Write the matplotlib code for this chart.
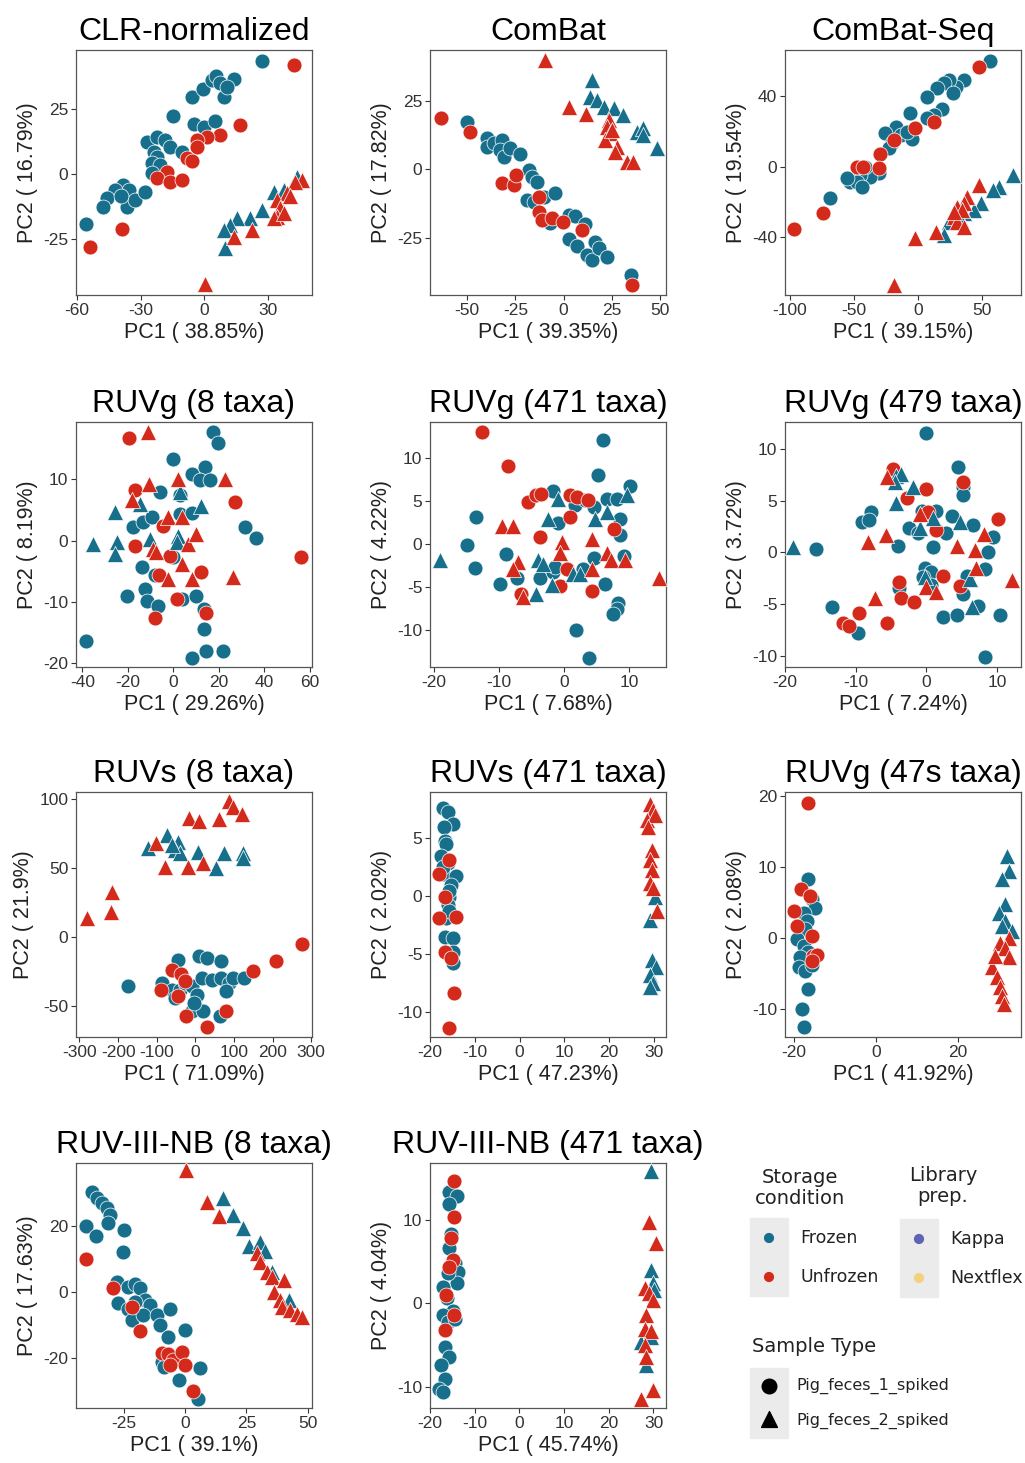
import matplotlib
matplotlib.use("Agg")
import matplotlib.pyplot as plt
from matplotlib.patches import Rectangle

plt.rcParams["font.family"] = ["Liberation Sans", "DejaVu Sans"]
plt.rcParams["axes.unicode_minus"] = False

FROZEN = "#176F8C"
UNFROZEN = "#D42A1C"
KAPPA = "#5E63B4"
NEXTFLEX = "#F3D27E"

# ---- panel data: (PC1, PC2) pairs ----
# CLR-normalized
clr_fc = [(27.2, 43.6), (-5.8, 29.8), (-0.6, 32.6), (3.6, 36.2), (5.7, 37.8), (7.6, 35.2), (9.4, 29.8),
          (13.9, 36.5), (10.7, 33.4), (-14.8, 22.4), (-4.7, 19.3), (-0.3, 18.0), (5.2, 20.6), (-27.1, 12.5),
          (-22.4, 14.4), (-18.4, 13.1), (-16.1, 10.5), (-10.6, 8.6), (-23.8, 8.6), (-22.4, 6.7), (-24.7, 4.1),
          (-20.8, 3.5), (-24.7, 0.3), (-38.1, -4.2), (-35.7, -6.2), (-42.0, -6.2), (-46.0, -9.4),
          (-47.6, -12.6), (-36.5, -12.6), (-32.6, -10.0), (-27.9, -6.8), (-39.4, -8.7), (-55.7, -19.3)]
clr_uc = [(42.2, 42.0), (17.0, 18.9), (7.6, 15.0), (1.3, 14.4), (-3.5, 13.1), (-3.5, 10.5), (-8.2, 6.0),
          (-5.8, 5.1), (-17.6, 0.9), (-22.4, -1.7), (-16.1, -3.0), (-10.6, -2.3), (-38.6, -21.3), (-53.9, -28.3)]
clr_ft = [(43.8, -1.0), (32.8, -6.8), (37.5, -6.2), (27.2, -14.1), (21.7, -17.1), (15.4, -17.1), (12.3, -19.7),
          (9.4, -21.6), (9.9, -28.7)]
clr_ut = [(46.1, -2.3), (43.0, -3.0), (39.0, -7.5), (34.3, -10.0), (35.9, -13.2), (34.3, -16.5), (32.8, -17.1),
          (37.5, -15.2), (22.5, -21.6), (13.9, -24.2), (0.5, -42.4), (40.6, -8.7)]

# ComBat
cb_fc = [(-50.3, 17.2), (-39.7, 11.3), (-39.7, 8.3), (-36.2, 9.5), (-31.9, 10.7), (-32.8, 7.1), (-31.0, 4.6),
         (-27.6, 7.7), (-22.4, 5.6), (-18.1, -0.2), (-16.4, -2.7), (-13.8, -4.5), (-19.0, -11.2), (-15.5, -11.8),
         (-10.3, -10.0), (-4.3, -8.5), (-6.9, -19.5), (2.6, -16.7), (6.0, -17.0), (11.2, -20.0), (2.6, -25.5),
         (6.9, -28.0), (12.1, -31.3), (14.7, -33.1), (16.4, -26.4), (18.1, -28.8), (22.4, -32.1), (34.8, -38.6)]
cb_uc = [(-63.8, 18.6), (-48.3, 13.7), (-31.9, -4.9), (-25.9, -5.7), (-24.7, -2.1), (-12.9, -10.0),
         (-12.9, -15.5), (-11.2, -18.5), (-6.0, -17.9), (-0.3, -19.1), (9.5, -22.1), (35.3, -42.2)]
cb_ft = [(14.7, 32.6), (13.8, 26.5), (17.2, 25.3), (20.7, 22.9), (25.9, 22.3), (31.0, 19.8), (37.9, 13.7),
         (41.4, 15.0), (41.4, 12.5), (48.3, 7.7)]
cb_ut = [(-9.5, 39.9), (2.6, 22.9), (11.7, 20.4), (23.3, 18.0), (22.4, 15.6), (24.1, 13.1), (21.6, 10.7),
         (27.6, 8.3), (26.7, 6.4), (32.8, 2.8), (36.2, 2.8), (25.0, 14.4)]

# ComBat-Seq
cbs_fc = [(56.1, 60.5), (35.8, 49.4), (29.2, 45.6), (24.0, 49.4), (20.1, 47.5), (15.0, 44.7), (7.0, 39.9),
          (27.4, 41.8), (18.8, 32.7), (12.3, 29.5), (7.0, 27.6), (-6.5, 30.4), (-17.0, 22.8), (-25.6, 19.0),
          (-13.8, 18.1), (-4.7, 15.6), (-8.6, 20.0), (-20.4, 13.3), (-23.0, 10.5), (-30.8, -3.8), (-37.3, -5.7),
          (-41.3, 0.0), (-45.2, -4.8), (-53.0, -8.6), (-47.8, -8.6), (-43.9, -11.4), (-68.7, -18.1),
          (-55.6, -6.7)]
cbs_uc = [(47.5, 57.0), (12.3, 25.7), (-2.1, 21.9), (-19.1, 15.2), (-29.5, 7.2), (-47.8, 0.0), (-43.1, 0.0),
          (-30.8, -1.0), (-73.9, -26.6), (-96.6, -35.7)]
cbs_ft = [(73.6, -4.8), (63.2, -11.4), (58.0, -13.3), (48.8, -20.9), (43.6, -24.7), (35.8, -26.6),
          (24.0, -31.4), (20.1, -39.0), (33.2, -30.4)]
cbs_ut = [(47.5, -10.5), (38.4, -17.1), (35.8, -20.9), (30.5, -22.8), (34.5, -24.7), (27.9, -28.5),
          (30.5, -31.4), (35.8, -34.2), (13.6, -37.1), (-2.1, -40.9), (-19.1, -67.5), (27.9, -25.7)]

# RUVg (8 taxa)
rg8_fc = [(17.6, 17.8), (19.8, 15.9), (-0.3, 13.4), (8.1, 10.9), (13.9, 12.0), (11.7, 9.9), (16.1, 9.9),
          (-5.9, 7.9), (2.9, 7.4), (2.9, 4.4), (8.1, 4.5), (-17.6, 2.2), (-13.2, 3.0), (-9.5, 3.8), (31.5, 2.2),
          (36.6, 0.4), (0.0, -2.7), (-13.9, -4.3), (-8.0, -5.6), (-12.4, -7.9), (-11.7, -9.9), (-6.6, -10.7),
          (-20.5, -9.0), (3.7, -9.6), (10.2, -9.0), (13.6, -11.2), (13.6, -14.5), (14.6, -18.1), (21.7, -18.1),
          (8.1, -19.2), (-38.4, -16.4)]
rg8_uc = [(-19.3, 16.7), (-16.8, 8.2), (-16.8, -0.9), (-4.4, 2.4), (-1.5, -2.5), (-6.1, -5.7), (1.5, -9.6),
          (-8.0, -12.6), (12.4, -5.2), (14.6, -11.8), (27.1, 6.3), (56.4, -2.7)]
rg8_ft = [(-25.6, 4.7), (-14.6, 6.0), (-35.1, -0.5), (-24.9, -0.3), (-25.6, -2.2), (-10.2, 0.3), (2.9, 7.9),
          (2.2, 0.8), (1.5, -0.3), (12.4, 5.7)]
rg8_ut = [(-11.0, 17.8), (-10.5, 9.3), (-18.3, 6.6), (-2.2, 3.8), (3.7, 3.8), (2.2, 10.1), (22.7, 10.1),
          (-8.8, -1.4), (-7.6, -1.9), (3.7, -3.8), (6.6, -0.5), (10.2, 1.1), (-2.2, -6.3), (8.1, -6.3),
          (26.4, -6.0)]

# RUVg (471 taxa)
rg471_fc = [(6.0, 12.1), (5.2, 8.0), (10.1, 6.8), (-1.7, 6.2), (1.6, 4.5), (3.2, 5.1), (4.5, 4.3), (6.5, 5.3),
            (8.6, 2.9), (8.1, 5.3), (-0.9, 2.5), (-13.5, 3.1), (-15.0, -0.1), (-13.7, -2.8), (-8.9, -1.2),
            (-9.9, -4.6), (-7.3, -3.9), (-3.7, -3.9), (-1.7, -3.3), (-1.4, -2.7), (2.9, -2.9), (4.5, -1.6),
            (8.6, 1.1), (9.1, -1.4), (6.3, -4.7), (8.3, -6.8), (8.1, -7.6), (7.5, -8.1), (1.8, -10.0),
            (3.8, -13.3)]
rg471_uc = [(-12.7, 13.0), (-8.6, 9.1), (-5.5, 4.9), (-4.3, 5.7), (-3.5, 5.8), (0.9, 5.7), (1.9, 5.5),
            (3.7, 5.1), (0.9, 3.1), (-3.7, 0.8), (0.4, -2.9), (-0.7, -4.9), (4.2, -5.5), (-6.6, -5.8), (7.6, 1.7)]
rg471_ft = [(-19.1, -1.9), (-2.5, 2.9), (-0.9, 5.3), (4.7, 2.9), (6.5, 3.7), (9.6, 5.7), (-4.0, -1.8),
            (-3.2, -2.3), (-1.9, -4.8), (-4.3, -5.8), (1.4, -3.5), (2.4, -3.5)]
rg471_ut = [(-9.6, 2.1), (-7.8, 2.1), (-7.1, -2.1), (-7.8, -2.9), (-6.4, -6.2), (-0.4, 0.2), (-0.7, -1.0),
            (4.2, 0.6), (6.5, -1.0), (7.1, -1.9), (9.3, -1.8), (4.2, -2.9), (14.5, -3.9)]

# RUVg (479 taxa)
rg479_fc = [(-0.1, 11.5), (4.5, 8.2), (5.2, 6.3), (5.2, 5.5), (-0.6, 4.0), (1.4, 4.0), (3.6, 3.5), (6.6, 2.6),
            (-9.1, 2.9), (-7.8, 3.9), (-8.1, 3.1), (-2.4, 2.3), (-1.2, 1.9), (2.8, 1.9), (0.9, 0.5), (-4.0, 0.6),
            (9.5, 1.5), (8.8, 0.0), (-15.6, 0.3), (-0.2, -1.5), (0.7, -1.9), (0.7, -3.2), (-0.5, -2.4),
            (5.7, -2.3), (5.2, -4.0), (8.3, -1.6), (-3.8, -3.5), (-13.3, -5.3), (-9.7, -7.8), (2.4, -6.3),
            (4.3, -6.1), (7.3, -5.2), (10.4, -6.1), (8.3, -10.1)]
rg479_uc = [(-4.7, 8.1), (-2.8, 5.2), (-0.1, 6.1), (5.2, 6.8), (0.2, 3.9), (1.4, 2.2), (10.2, 3.2),
            (-3.8, -2.9), (-3.6, -4.4), (-1.7, -4.8), (2.4, -2.3), (-9.5, -5.9), (-11.8, -6.8), (-10.9, -7.1),
            (-5.6, -6.8), (4.7, -3.3)]
rg479_ft = [(-4.3, 7.4), (-3.6, 7.6), (-4.5, 6.8), (-1.9, 6.3), (-4.3, 4.8), (-0.9, 2.3), (0.9, 3.3),
            (4.7, 2.9), (-18.8, 0.5), (-0.2, -2.4), (6.2, -2.6), (6.4, -5.3)]
rg479_ut = [(-5.5, 7.3), (-0.9, 3.7), (-5.7, 1.7), (-8.3, 1.0), (-7.3, -4.4), (0.0, -3.4), (1.4, -3.8),
            (4.3, 0.6), (6.9, 0.2), (8.1, 1.8), (7.1, -1.5), (12.1, -2.7)]

# RUVs (8 taxa)
rs8_fc = [(-175.0, -35.5), (-43.8, -16.3), (8.8, -13.9), (30.6, -15.1), (65.7, -17.5), (-87.6, -33.1),
          (-61.3, -37.9), (-39.4, -37.9), (-26.3, -33.1), (-8.8, -35.5), (4.4, -41.5), (17.5, -29.5),
          (43.8, -30.7), (65.7, -29.5), (87.6, -33.1), (96.3, -29.5), (127.0, -29.5), (78.8, -39.1),
          (-8.8, -53.5), (19.3, -53.5), (63.9, -57.1), (-4.4, -47.5), (-52.5, -43.9)]
rs8_uc = [(275.8, -5.0), (210.0, -17.5), (148.9, -24.7), (-61.3, -23.5), (-36.8, -26.6), (-89.3, -37.9),
          (-43.8, -42.7), (-23.6, -57.1), (78.8, -53.5), (30.6, -65.0), (-26.3, -31.9)]
rs8_ft = [(-122.6, 64.5), (-74.4, 73.6), (-43.8, 68.8), (-52.5, 62.8), (-39.4, 60.4), (7.0, 61.2),
          (74.4, 60.4), (122.6, 60.4), (124.3, 56.8), (52.5, 49.6), (-61.3, 66.4)]
rs8_ut = [(87.6, 98.1), (96.3, 94.0), (120.8, 89.2), (-15.8, 86.1), (8.8, 83.7), (61.3, 85.1),
          (-100.7, 68.3), (-78.8, 50.8), (-19.3, 50.8), (19.3, 53.2), (-216.0, 32.9), (-219.0, 18.0),
          (-280.0, 14.1)]

# RUVs (471 taxa)
rs471_fc = [(-17.2, 7.5), (-16.0, 7.2), (-14.9, 6.2), (-16.8, 5.9), (-16.6, 4.7), (-16.4, 4.4), (-17.5, 3.4),
            (-16.0, 2.8), (-17.2, 1.9), (-14.2, 1.7), (-15.3, 0.9), (-15.7, -0.1), (-16.0, -0.8),
            (-16.4, -1.9), (-16.6, -3.5), (-14.9, -3.6), (-14.9, -4.8), (-14.9, -5.8), (-17.2, 2.5),
            (-15.7, 0.4), (-15.8, -1.3)]
rs471_uc = [(-15.7, 3.1), (-18.1, 1.9), (-16.6, -0.1), (-18.1, -1.9), (-14.3, -1.8), (-16.6, -4.8),
            (-15.3, -5.3), (-14.6, -8.3), (-15.7, -11.3)]
rs471_ft = [(30.2, -0.1), (29.1, -2.1), (29.5, -5.5), (30.4, -6.1), (29.1, -6.8), (29.9, -7.5), (29.1, -7.8)]
rs471_ut = [(29.1, 7.9), (29.9, 7.4), (28.4, 6.5), (30.2, 6.9), (28.7, 5.9), (29.5, 3.9), (29.1, 3.1),
            (29.5, 2.2), (29.1, 1.1), (29.9, 0.7), (30.6, -1.3)]

# RUVg (47s taxa)
rg47_fc = [(-16.6, 8.3), (-15.6, 5.5), (-14.8, 4.3), (-17.6, 3.6), (-16.8, 2.4), (-17.2, 1.3), (-19.2, -0.1),
           (-17.6, -1.1), (-16.4, -2.0), (-18.4, -2.7), (-18.8, -4.1), (-17.2, -4.6), (-15.6, -3.7),
           (-16.4, -7.2), (-18.0, -10.0), (-17.4, -12.5)]
rg47_uc = [(-16.4, 19.1), (-18.1, 6.9), (-16.0, 6.0), (-20.0, 3.8), (-19.2, 1.7), (-15.6, 0.3), (-15.2, -2.5),
           (-14.4, -2.3), (-15.6, -3.2)]
rg47_ft = [(31.9, 11.6), (32.3, 9.5), (30.6, 8.3), (31.5, 4.8), (30.0, 3.6), (31.5, 2.4), (33.1, 1.0), (30.6, 1.7)]
rg47_ut = [(32.3, 0.1), (30.3, -0.6), (31.5, -1.3), (32.3, -2.7), (28.2, -4.1), (29.4, -5.5), (30.3, -6.9),
           (30.6, -8.1), (31.1, -9.3), (29.0, -2.5)]

# RUV-III-NB (8 taxa)
rn8_fc = [(-38.1, 30.4), (-36.1, 28.5), (-34.0, 27.0), (-32.0, 25.7), (-30.6, 23.5), (-31.3, 21.0),
          (-40.4, 20.2), (-36.3, 17.2), (-24.9, 18.9), (-25.4, 12.1), (-27.6, 3.2), (-23.1, 1.7), (-20.4, 2.7),
          (-18.4, 1.2), (-27.2, -3.3), (-23.1, -4.9), (-21.8, -8.4), (-16.3, -2.3), (-14.3, -3.8), (-17.0, -6.9),
          (-11.6, -6.9), (-10.2, -9.9), (-6.8, -13.5), (-6.1, -4.9), (0.0, -11.4), (-9.5, -21.1), (-8.8, -22.6),
          (-2.7, -26.6), (5.9, -22.9), (5.4, -32.2), (-20.4, -2.8)]
rn8_uc = [(-40.4, 10.1), (-29.3, 1.2), (-21.8, -4.4), (-18.6, -11.7), (-9.5, -18.2), (-6.8, -18.5),
          (-4.8, -20.5), (-1.4, -18.0), (0.0, -22.1), (-6.1, -22.1), (3.1, -30.0)]
rn8_ft = [(15.6, 28.7), (19.7, 23.5), (23.5, 19.4), (26.0, 14.2), (30.6, 15.4), (32.7, 12.6), (35.4, 6.3),
          (42.2, -2.3)]
rn8_ut = [(0.4, 37.1), (9.1, 27.3), (13.6, 23.0), (29.3, 11.8), (30.6, 9.3), (33.3, 6.3), (35.4, 4.8),
          (40.1, 3.7), (36.1, 0.2), (38.8, -2.3), (39.5, -4.4), (42.9, -5.4), (45.6, -6.4), (47.6, -7.4)]

# RUV-III-NB (471 taxa)
rn471_fc = [(-15.7, 13.3), (-14.0, 12.8), (-15.8, 11.9), (-15.3, 8.3), (-15.7, 6.6), (-14.3, 4.8),
            (-13.8, 3.8), (-14.0, 2.4), (-16.0, 3.6), (-17.0, 2.0), (-16.3, 0.6), (-14.8, -0.9), (-17.0, -1.4),
            (-16.0, -2.2), (-14.3, -1.8), (-16.6, -5.2), (-15.7, -6.4), (-17.5, -7.4), (-16.6, -9.0),
            (-17.9, -10.2), (-17.0, -10.6)]
rn471_uc = [(-14.6, 14.6), (-14.6, 10.4), (-15.3, 7.8), (-14.9, 5.2), (-15.7, 4.4), (-16.4, 1.0),
            (-16.6, -3.2), (-14.6, -1.4)]
rn471_ft = [(29.5, 15.8), (29.5, 4.0), (29.9, 2.4), (30.2, 1.6), (29.5, -4.0), (27.2, -4.6), (28.4, -7.4)]
rn471_ut = [(29.0, 9.8), (30.6, 7.2), (28.0, 1.8), (29.1, 1.2), (29.9, 0.4), (28.4, -1.4), (28.0, -3.0),
            (29.5, -3.3), (28.0, -5.0), (28.4, -6.4), (27.2, -11.4), (29.9, -10.4)]

TITLES = ["CLR-normalized", "ComBat", "ComBat-Seq",
          "RUVg (8 taxa)", "RUVg (471 taxa)", "RUVg (479 taxa)",
          "RUVs (8 taxa)", "RUVs (471 taxa)", "RUVg (47s taxa)",
          "RUV-III-NB (8 taxa)", "RUV-III-NB (471 taxa)"]
PC1_PCT = ["38.85", "39.35", "39.15", "29.26", "7.68", "7.24", "71.09", "47.23", "41.92", "39.1", "45.74"]
PC2_PCT = ["16.79", "17.82", "19.54", "8.19", "4.22", "3.72", "21.9", "2.02", "2.08", "17.63", "4.04"]
X_TICKS = [[-60, -30, 0, 30], [-50, -25, 0, 25, 50], [-100, -50, 0, 50],
           [-40, -20, 0, 20, 40, 60], [-20, -10, 0, 10], [-20, -10, 0, 10],
           [-300, -200, -100, 0, 100, 200, 300], [-20, -10, 0, 10, 20, 30], [-20, 0, 20],
           [-25, 0, 25, 50], [-20, -10, 0, 10, 20, 30]]
Y_TICKS = [[-25, 0, 25], [-25, 0, 25], [-40, 0, 40],
           [-20, -10, 0, 10], [-10, -5, 0, 5, 10], [-10, -5, 0, 5, 10],
           [-50, 0, 50, 100], [-10, -5, 0, 5], [-10, 0, 10, 20],
           [-20, 0, 20], [-10, 0, 10]]
X_LIMS = [(-60.5, 50.9), (-69.3, 53.1), (-103.9, 80.2), (-42.8, 61.1), (-20.6, 15.6), (-20.0, 13.4),
          (-309, 302), (-20.0, 32.7), (-22.1, 35.3), (-44.5, 51.7), (-20.0, 32.8)]
Y_LIMS = [(-46.7, 47.8), (-45.9, 43.6), (-73.2, 66.5), (-20.7, 19.4), (-14.3, 14.2), (-11.1, 12.6),
          (-72.2, 104.8), (-12.1, 8.9), (-13.9, 20.6), (-35.0, 39.2), (-12.5, 16.8)]
GROUPS = [(clr_fc, clr_uc, clr_ft, clr_ut), (cb_fc, cb_uc, cb_ft, cb_ut), (cbs_fc, cbs_uc, cbs_ft, cbs_ut),
          (rg8_fc, rg8_uc, rg8_ft, rg8_ut), (rg471_fc, rg471_uc, rg471_ft, rg471_ut),
          (rg479_fc, rg479_uc, rg479_ft, rg479_ut), (rs8_fc, rs8_uc, rs8_ft, rs8_ut),
          (rs471_fc, rs471_uc, rs471_ft, rs471_ut), (rg47_fc, rg47_uc, rg47_ft, rg47_ut),
          (rn8_fc, rn8_uc, rn8_ft, rn8_ut), (rn471_fc, rn471_uc, rn471_ft, rn471_ut)]

W, H = 1025, 1463
COL_LEFT = [76, 430, 785]
ROW_TOP = [50, 422, 792, 1163]
AX_W, AX_H = 236, 245


def draw_panel(ax, i):
    fc, uc, ft, ut = GROUPS[i]
    for pts, color, marker, size in [(fc, FROZEN, "o", 115), (uc, UNFROZEN, "o", 115),
                                      (ft, FROZEN, "^", 135), (ut, UNFROZEN, "^", 135)]:
        xs = [p[0] for p in pts]
        ys = [p[1] for p in pts]
        ax.scatter(xs, ys, s=size, c=color, marker=marker, edgecolors="white", linewidths=0.5, zorder=3)
    ax.set_xlim(*X_LIMS[i])
    ax.set_ylim(*Y_LIMS[i])
    ax.set_xticks(X_TICKS[i])
    ax.set_yticks(Y_TICKS[i])
    ax.tick_params(labelsize=12.5, colors="#333333", length=3.5, width=0.8, pad=2)
    for sp in ax.spines.values():
        sp.set_color("#555555")
        sp.set_linewidth(0.9)
    ax.set_title(TITLES[i], fontsize=23, pad=7)
    ax.set_xlabel(f"PC1 ( {PC1_PCT[i]}%)", fontsize=15.5, labelpad=3, color="#222222")
    ax.set_ylabel(f"PC2 ( {PC2_PCT[i]}%)", fontsize=15.5, labelpad=4, color="#222222")


fig = plt.figure(figsize=(W / 100, H / 100), dpi=100)
for i in range(len(TITLES)):
    r, c = divmod(i, 3)
    left = COL_LEFT[c] / W
    bottom = 1 - (ROW_TOP[r] + AX_H) / H
    ax = fig.add_axes([left, bottom, AX_W / W, AX_H / H])
    draw_panel(ax, i)

# legend block, laid out in pixel space
leg = fig.add_axes([0, 0, 1, 1], facecolor="none")
leg.set_xlim(0, W)
leg.set_ylim(H, 0)
leg.axis("off")
LEG_FONT = ["DejaVu Sans"]

leg.text(800, 1188, "Storage\ncondition", ha="center", va="center", fontsize=14, family=LEG_FONT,
         linespacing=1.15, color="#222222")
leg.add_patch(Rectangle((750, 1218), 38, 78, color="#EBEBEB", zorder=1))
leg.scatter([769, 769], [1238, 1277], s=40, c=[FROZEN, UNFROZEN], zorder=2)
leg.text(800, 1238, "Frozen", va="center", fontsize=12.5, family=LEG_FONT, color="#222222")
leg.text(800, 1277, "Unfrozen", va="center", fontsize=12.5, family=LEG_FONT, color="#222222")

leg.text(943, 1186, "Library\nprep.", ha="center", va="center", fontsize=14, family=LEG_FONT,
         linespacing=1.15, color="#222222")
leg.add_patch(Rectangle((900, 1219), 38, 78, color="#EBEBEB", zorder=1))
leg.scatter([919, 919], [1239, 1278], s=40, c=[KAPPA, NEXTFLEX], zorder=2)
leg.text(950, 1239, "Kappa", va="center", fontsize=12.5, family=LEG_FONT, color="#222222")
leg.text(950, 1278, "Nextflex", va="center", fontsize=12.5, family=LEG_FONT, color="#222222")

leg.text(752, 1346, "Sample Type", va="center", fontsize=14, family=LEG_FONT, color="#222222")
leg.add_patch(Rectangle((750, 1368), 38, 70, color="#EBEBEB", zorder=1))
leg.scatter([769], [1386], s=110, c="black", marker="o", zorder=2)
leg.scatter([769], [1419], s=130, c="black", marker="^", zorder=2)
leg.text(796, 1386, "Pig_feces_1_spiked", va="center", fontsize=11.5, family=LEG_FONT, color="#222222")
leg.text(796, 1421, "Pig_feces_2_spiked", va="center", fontsize=11.5, family=LEG_FONT, color="#222222")

fig.savefig("out.png", dpi=100, facecolor="white")
